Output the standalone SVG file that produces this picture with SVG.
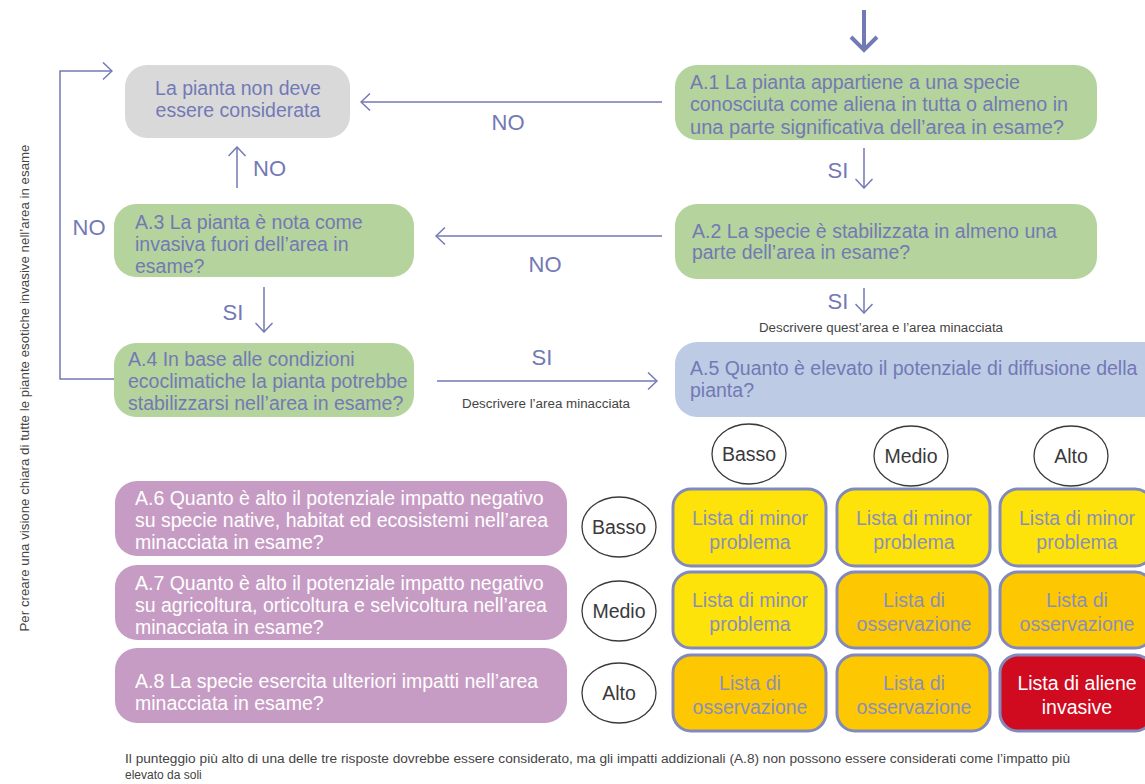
<svg xmlns="http://www.w3.org/2000/svg" width="1145" height="784" viewBox="0 0 1145 784">
<style>
text{font-family:"Liberation Sans",Arial,sans-serif}
.q{font-size:19.5px;fill:#7379b5}
.w{font-size:19.5px;fill:#ffffff}
.lbl{font-size:22px;fill:#7379b5}
.cap{font-size:12px;fill:#444444}
.ln{stroke:#7379b5;stroke-width:1.5;fill:none}
.ell{fill:#ffffff;stroke:#3a3a3a;stroke-width:1.3}
.et{font-size:19.5px;fill:#3a3a3a;text-anchor:middle}
.cell{stroke:#8189bd;stroke-width:3}
.ct{font-size:19.5px;fill:#8a8fb9;text-anchor:middle}
.y{fill:#fee30a}
.o{fill:#fdc802}
.r{fill:#d00a1f}
</style>
<defs>
<marker id="arr" viewBox="-1 -1 11 19" refX="9" refY="8.5" markerWidth="11" markerHeight="19" markerUnits="userSpaceOnUse" orient="auto">
<path d="M0,0 L9,8.5 L0,17" fill="none" stroke="#7379b5" stroke-width="1.5"/>
</marker>
<marker id="big" viewBox="-3 -3 20 32" refX="13" refY="13" markerWidth="20" markerHeight="32" markerUnits="userSpaceOnUse" orient="auto">
<path d="M0,0 L13,13 L0,26" fill="none" stroke="#7379b5" stroke-width="4"/>
</marker>
</defs>

<text class="cap" transform="translate(29,388) rotate(-90)" text-anchor="middle" textLength="487" lengthAdjust="spacingAndGlyphs" style="font-size:12.5px">Per creare una visione chiara di tutte le piante esotiche invasive nell’area in esame</text>

<g id="connectors">
<line class="ln" x1="864" y1="10" x2="864" y2="50" marker-end="url(#big)" style="stroke-width:4"/>
<line class="ln" x1="662" y1="102" x2="361" y2="102" marker-end="url(#arr)"/>
<text class="lbl" x="508" y="130" text-anchor="middle">NO</text>
<line class="ln" x1="864" y1="148" x2="864" y2="188" marker-end="url(#arr)"/>
<text class="lbl" x="838" y="178" text-anchor="middle">SI</text>
<line class="ln" x1="662" y1="236" x2="436" y2="236" marker-end="url(#arr)"/>
<text class="lbl" x="545" y="272" text-anchor="middle">NO</text>
<line class="ln" x1="237" y1="188" x2="237" y2="147" marker-end="url(#arr)"/>
<text class="lbl" x="253" y="176">NO</text>
<text class="lbl" x="89" y="235" text-anchor="middle">NO</text>
<line class="ln" x1="264" y1="287" x2="264" y2="332" marker-end="url(#arr)"/>
<text class="lbl" x="233" y="320" text-anchor="middle">SI</text>
<polyline class="ln" points="114,379 60,379 60,71 112,71" marker-end="url(#arr)"/>
<line class="ln" x1="437" y1="381" x2="657" y2="381" marker-end="url(#arr)"/>
<text class="lbl" x="542" y="365" text-anchor="middle">SI</text>
<text class="cap" x="462" y="408" textLength="168" lengthAdjust="spacingAndGlyphs">Descrivere l’area minacciata</text>
<line class="ln" x1="864" y1="288" x2="864" y2="313" marker-end="url(#arr)"/>
<text class="lbl" x="838" y="309" text-anchor="middle">SI</text>
<text class="cap" x="759" y="332" textLength="244" lengthAdjust="spacingAndGlyphs">Descrivere quest’area e l’area minacciata</text>
</g>

<g id="n-gray">
<rect x="125" y="65" width="225" height="73" rx="22" fill="#d9d9da"/>
<text class="q" x="238" y="95" text-anchor="middle">La pianta non deve</text>
<text class="q" x="238" y="117" text-anchor="middle">essere considerata</text>
</g>

<g id="n-a1">
<rect x="675" y="65" width="422" height="75" rx="22" fill="#b5d39c"/>
<text class="q" x="690" y="89" textLength="330" lengthAdjust="spacingAndGlyphs">A.1 La pianta appartiene a una specie</text>
<text class="q" x="690" y="111" textLength="378" lengthAdjust="spacingAndGlyphs">conosciuta come aliena in tutta o almeno in</text>
<text class="q" x="690" y="134" textLength="374" lengthAdjust="spacingAndGlyphs">una parte significativa dell’area in esame?</text>
</g>

<g id="n-a2">
<rect x="675" y="204" width="422" height="75" rx="22" fill="#b5d39c"/>
<text class="q" x="692" y="238" textLength="365" lengthAdjust="spacingAndGlyphs">A.2 La specie è stabilizzata in almeno una</text>
<text class="q" x="692" y="259" textLength="218" lengthAdjust="spacingAndGlyphs">parte dell’area in esame?</text>
</g>

<g id="n-a3">
<rect x="114" y="204" width="300" height="73" rx="22" fill="#b5d39c"/>
<text class="q" x="135" y="229">A.3 La pianta è nota come</text>
<text class="q" x="135" y="251">invasiva fuori dell’area in</text>
<text class="q" x="135" y="273">esame?</text>
</g>

<g id="n-a4">
<rect x="114" y="343" width="300" height="74" rx="22" fill="#b5d39c"/>
<text class="q" x="128" y="366">A.4 In base alle condizioni</text>
<text class="q" x="128" y="388">ecoclimatiche la pianta potrebbe</text>
<text class="q" x="128" y="410">stabilizzarsi nell’area in esame?</text>
</g>

<g id="n-a5">
<rect x="675" y="342" width="490" height="75" rx="22" fill="#bdcbe5"/>
<text class="q" x="690" y="375">A.5 Quanto è elevato il potenziale di diffusione della</text>
<text class="q" x="690" y="397">pianta?</text>
</g>

<g id="n-a6">
<rect x="115" y="481" width="452" height="75" rx="22" fill="#c79cc4"/>
<text class="w" x="135" y="505">A.6 Quanto è alto il potenziale impatto negativo</text>
<text class="w" x="135" y="527">su specie native, habitat ed ecosistemi nell’area</text>
<text class="w" x="135" y="549">minacciata in esame?</text>
</g>

<g id="n-a7">
<rect x="115" y="565" width="452" height="75" rx="22" fill="#c79cc4"/>
<text class="w" x="135" y="590">A.7 Quanto è alto il potenziale impatto negativo</text>
<text class="w" x="135" y="612">su agricoltura, orticoltura e selvicoltura nell’area</text>
<text class="w" x="135" y="634">minacciata in esame?</text>
</g>

<g id="n-a8">
<rect x="115" y="648" width="452" height="75" rx="22" fill="#c79cc4"/>
<text class="w" x="135" y="688">A.8 La specie esercita ulteriori impatti nell’area</text>
<text class="w" x="135" y="710">minacciata in esame?</text>
</g>

<g id="e-top-basso"><ellipse class="ell" cx="749" cy="454" rx="37" ry="30"/><text class="et" x="749" y="461">Basso</text></g>
<g id="e-top-medio"><ellipse class="ell" cx="911" cy="456" rx="37" ry="30"/><text class="et" x="911" y="463">Medio</text></g>
<g id="e-top-alto"><ellipse class="ell" cx="1071" cy="456" rx="37" ry="30"/><text class="et" x="1071" y="463">Alto</text></g>
<g id="e-left-basso"><ellipse class="ell" cx="619" cy="527" rx="37" ry="30"/><text class="et" x="619" y="534">Basso</text></g>
<g id="e-left-medio"><ellipse class="ell" cx="619" cy="611" rx="37" ry="30"/><text class="et" x="619" y="618">Medio</text></g>
<g id="e-left-alto"><ellipse class="ell" cx="619" cy="693" rx="37" ry="30"/><text class="et" x="619" y="700">Alto</text></g>

<g id="c11"><rect class="cell y" x="673" y="489" width="153" height="77" rx="18"/><text class="ct" x="750" y="525">Lista di minor</text><text class="ct" x="750" y="549">problema</text></g>
<g id="c12"><rect class="cell y" x="837" y="489" width="153" height="77" rx="18"/><text class="ct" x="914" y="525">Lista di minor</text><text class="ct" x="914" y="549">problema</text></g>
<g id="c13"><rect class="cell y" x="1000" y="489" width="153" height="77" rx="18"/><text class="ct" x="1077" y="525">Lista di minor</text><text class="ct" x="1077" y="549">problema</text></g>
<g id="c21"><rect class="cell y" x="673" y="572" width="153" height="76" rx="18"/><text class="ct" x="750" y="607">Lista di minor</text><text class="ct" x="750" y="631">problema</text></g>
<g id="c22"><rect class="cell o" x="837" y="572" width="153" height="76" rx="18"/><text class="ct" x="914" y="607">Lista di</text><text class="ct" x="914" y="631">osservazione</text></g>
<g id="c23"><rect class="cell o" x="1000" y="572" width="153" height="76" rx="18"/><text class="ct" x="1077" y="607">Lista di</text><text class="ct" x="1077" y="631">osservazione</text></g>
<g id="c31"><rect class="cell o" x="673" y="655" width="153" height="76" rx="18"/><text class="ct" x="750" y="690">Lista di</text><text class="ct" x="750" y="714">osservazione</text></g>
<g id="c32"><rect class="cell o" x="837" y="655" width="153" height="76" rx="18"/><text class="ct" x="914" y="690">Lista di</text><text class="ct" x="914" y="714">osservazione</text></g>
<g id="c33"><rect class="cell r" x="1000" y="655" width="153" height="76" rx="18"/><text class="ct" x="1077" y="690" style="fill:#ffffff">Lista di aliene</text><text class="ct" x="1077" y="714" style="fill:#ffffff">invasive</text></g>

<text class="cap" x="125" y="763" textLength="945" lengthAdjust="spacingAndGlyphs">Il punteggio più alto di una delle tre risposte dovrebbe essere considerato, ma gli impatti addizionali (A.8) non possono essere considerati come l’impatto più</text>
<text class="cap" x="125" y="779">elevato da soli</text>
</svg>
